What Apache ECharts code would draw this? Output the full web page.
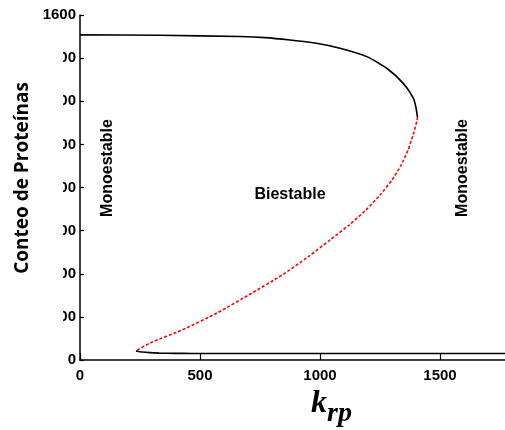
<!DOCTYPE html>
<html>
<head>
<meta charset="utf-8">
<script src="https://cdn.jsdelivr.net/npm/echarts@6/dist/echarts.min.js"></script>
<style>html,body{margin:0;padding:0;background:#fff;}#c{width:505px;height:430px;}</style>
</head>
<body>
<div id="c"></div>
<script>
// Upper stable branch (black)
const upperX = [0, 333, 667, 771, 875, 979, 1083, 1195, 1278, 1347, 1389, 1400, 1406];
const upperY = [1508, 1506, 1500, 1495, 1484, 1470, 1446, 1407, 1353, 1283, 1214, 1170, 1127];
// Unstable branch (red dashed)
const unstableX = [1406, 1404, 1388, 1367, 1338, 1300, 1250, 1192, 1121, 1042, 950, 842, 717, 571, 425, 292, 233];
const unstableY = [1127, 1110, 1044, 974, 904, 835, 765, 696, 626, 557, 478, 394, 311, 218, 139, 79, 42];
// Lower stable branch (black)
const lowerX = [233, 260, 292, 330, 361, 430, 500, 800, 1200, 1600, 2000];
const lowerY = [42, 37, 34, 32, 31, 30.5, 30, 30, 30, 30, 30];
const yTitle = 'Conteo de Proteínas';
const regionLabels = ['Monoestable', 'Biestable', 'Monoestable'];

const zip = (xs, ys) => xs.map((x, i) => [x, ys[i]]);
const chart = echarts.init(document.getElementById('c'));
const SANS = 'Liberation Sans';
const tickFont = {fontFamily: SANS, fontWeight: 'bold', fontSize: 15, color: '#000', formatter: v => String(v)};
const ann = (text, x, y, rot) => ({
  type: 'text', z: 101, x: x, y: y, rotation: rot,
  style: {text: text, fontFamily: SANS, fontWeight: 'bold', fontSize: 16, fill: '#000', align: 'center', verticalAlign: 'middle'}
});
chart.setOption({
  animation: false,
  grid: {left: 80, top: 15, right: -55, bottom: 70, outerBoundsMode: 'none', containLabel: false},
  xAxis: {
    type: 'value', min: 0, max: 2000, interval: 500,
    axisLine: {lineStyle: {color: '#000', width: 1.5}},
    axisTick: {inside: true, length: 7, lineStyle: {color: '#000', width: 1.2}},
    axisLabel: Object.assign({margin: 8}, tickFont),
    splitLine: {show: false}
  },
  yAxis: {
    type: 'value', min: 0, max: 1600, interval: 200,
    axisLine: {show: true, lineStyle: {color: '#000', width: 1.5}},
    axisTick: {show: true, inside: true, length: 4, lineStyle: {color: '#000', width: 1.2}},
    axisLabel: Object.assign({margin: 4}, tickFont),
    splitLine: {show: false}
  },
  series: [
    {type: 'line', data: zip(upperX, upperY), smooth: 0.2, showSymbol: false,
     lineStyle: {color: '#000', width: 1.6}},
    {type: 'line', data: zip(unstableX, unstableY), smooth: 0.2, showSymbol: false,
     lineStyle: {color: '#ff0000', width: 1.6, type: [3, 2]}},
    {type: 'line', data: zip(lowerX, lowerY), smooth: 0.2, showSymbol: false,
     lineStyle: {color: '#000', width: 1.6}}
  ],
  graphic: [
    {type: 'rect', z: 100, shape: {x: 0, y: 32, width: 63, height: 310}, style: {fill: '#fff'}},
    {type: 'text', z: 101, x: 23, y: 178, rotation: Math.PI / 2,
     style: {text: yTitle, fontFamily: 'Open Sans', fontWeight: 'bold', fontSize: 19, fill: '#000', align: 'center', verticalAlign: 'middle'}},
    ann(regionLabels[0], 108, 168, Math.PI / 2),
    ann(regionLabels[1], 290, 195, 0),
    ann(regionLabels[2], 463, 168, Math.PI / 2),
    {type: 'text', z: 101, x: 327, y: 420,
     style: {text: 'k', fontFamily: 'Liberation Serif', fontStyle: 'italic', fontWeight: 'bold', fontSize: 32, fill: '#000', align: 'right', verticalAlign: 'bottom'}},
    {type: 'text', z: 101, x: 327, y: 428,
     style: {text: 'rp', fontFamily: 'Liberation Serif', fontStyle: 'italic', fontWeight: 'bold', fontSize: 28, fill: '#000', align: 'left', verticalAlign: 'bottom'}}
  ]
});
</script>
</body>
</html>
